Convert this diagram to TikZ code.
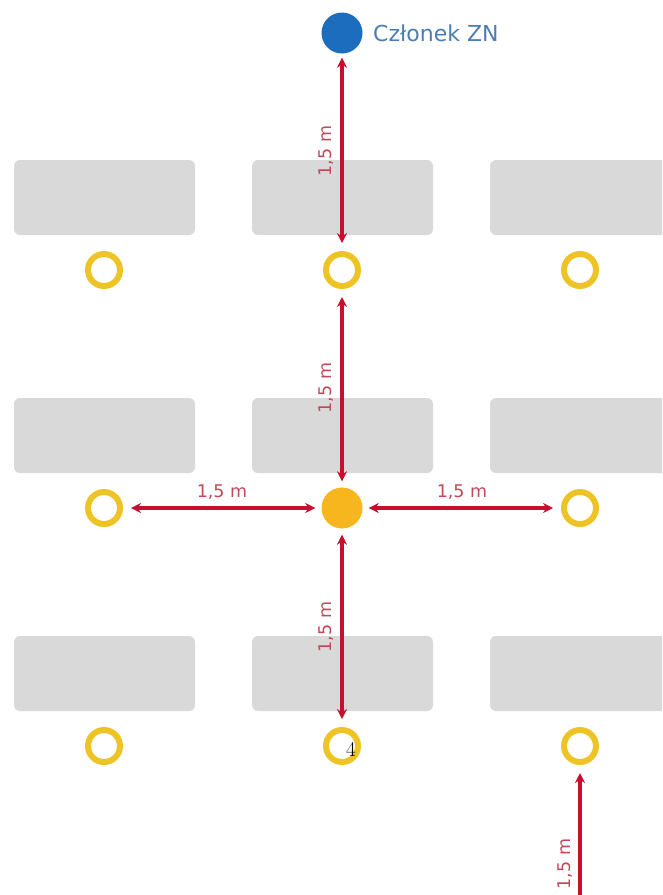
\documentclass[tikz,border=0pt]{standalone}
\usepackage{fontspec}
\setsansfont{DejaVu Sans}
\usetikzlibrary{arrows.meta}

\definecolor{deskgray}{HTML}{D9D9D9}
\definecolor{ringyellow}{HTML}{EDC325}
\definecolor{dotorange}{HTML}{F7B51E}
\definecolor{memberblue}{HTML}{1D6DBE}
\definecolor{memberlabel}{HTML}{4C7DB2}
\definecolor{distred}{HTML}{C8102E}
\definecolor{distlabel}{HTML}{C2485A}

\begin{document}
\begin{tikzpicture}[
  x=1pt, y=-1pt,
  desk/.style={fill=deskgray, rounded corners=6pt},
  seat/.style={circle, draw=ringyellow, line width=6pt, minimum size=32pt, inner sep=0pt},
  person/.style={circle, fill=dotorange, minimum size=41pt, inner sep=0pt},
  member/.style={circle, fill=memberblue, minimum size=41pt, inner sep=0pt},
  gap arrow/.style={{Stealth[length=10pt,width=10pt]}-{Stealth[length=10pt,width=10pt]}, draw=distred, line width=3.4pt},
  one way/.style={-{Stealth[length=10pt,width=10pt]}, draw=distred, line width=3.4pt},
  dist label/.style={font=\sffamily\fontsize{17.5}{17.5}\selectfont, text=distlabel, inner sep=0pt}
]

\clip (0,0) rectangle (662,895);

% Desks: three rows, the right column runs off the page.
\foreach \row in {197.5,435.5,673.5}
  \foreach \col in {104.5,342.5,580.5}
    \fill[desk] (\col-90.5,\row-37.5) rectangle (\col+90.5,\row+37.5);

% Seats in front of the desks
\node[seat] (seatA1) at (104,270) {};
\node[seat] (seatB1) at (342,270) {};
\node[seat] (seatC1) at (580,270) {};
\node[seat] (seatA2) at (104,508) {};
\node[person] (center) at (342,508) {};
\node[seat] (seatC2) at (580,508) {};
\node[seat] (seatA3) at (104,746) {};
\node[seat] (seatB3) at (342,746) {};
\node[seat] (seatC3) at (580,746) {};

% Committee member
\node[member] (memberDot) at (342,33) {};
\node[font=\sffamily\fontsize{22}{22}\selectfont, text=memberlabel, anchor=west, inner sep=0pt] (memberText) at (373,33) {Członek ZN};

% Page number left in the scan
\node[font=\fontsize{21}{21}\selectfont, text=black, inner sep=0pt] (pageNo) at (351,749) {4};

% Distances
\coordinate (bottomOut) at (580,900);

\draw[gap arrow, shorten <=4pt, shorten >=8pt] (memberDot) -- (seatB1);
\draw[gap arrow, shorten <=8pt, shorten >=6pt] (seatB1) -- (center);
\draw[gap arrow, shorten <=6pt, shorten >=8pt] (center) -- (seatB3);
\draw[gap arrow, shorten <=8pt, shorten >=6pt] (seatA2) -- (center);
\draw[gap arrow, shorten <=6pt, shorten >=8pt] (center) -- (seatC2);
\draw[one way, shorten >=8pt] (bottomOut) -- (seatC3);

\node[dist label, rotate=90] (labTop) at (326,151) {1,5 m};
\node[dist label, rotate=90] (labUpper) at (326,388) {1,5 m};
\node[dist label, rotate=90] (labLower) at (326,627) {1,5 m};
\node[dist label, rotate=90] (labBottom) at (565,864) {1,5 m};
\node[dist label] (labLeft) at (222,492) {1,5 m};
\node[dist label] (labRight) at (462,492) {1,5 m};

\end{tikzpicture}
\end{document}
